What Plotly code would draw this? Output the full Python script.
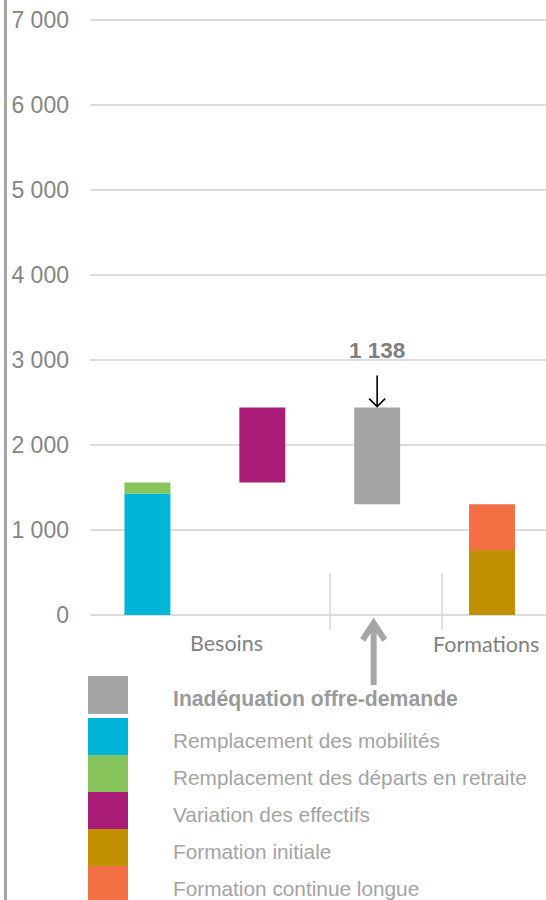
import plotly.graph_objects as go

# ---------------- Data ----------------
series_names = [
    "Inadéquation offre-demande",
    "Remplacement des mobilités",
    "Remplacement des départs en retraite",
    "Variation des effectifs",
    "Formation initiale",
    "Formation continue longue",
]
series_colors = ["#a5a5a5", "#00b5d8", "#88c45c", "#a91d79", "#c08f00", "#f27044"]
group_labels = ["Besoins", "Formations"]

mobilites = 1430
retraite = 130
effectifs = 880
formation_initiale = 765
formation_continue = 537

y_tick_values = [0, 1000, 2000, 3000, 4000, 5000, 6000, 7000]

besoins_total = mobilites + retraite + effectifs
formations_total = formation_initiale + formation_continue
gap = besoins_total - formations_total

# ---------------- Layout geometry ----------------
W_FIG, H_FIG = 546, 900
ML, MR, MT, MB = 90, 0, 19, 285
PW = W_FIG - ML - MR
PH = H_FIG - MT - MB
XR = [-0.5, 3.47]
YR = [0, 7012]


def pxx(p):
    return (p - ML) / PW


def pxy(p):
    return (MT + PH - p) / PH


def data_to_paperx(v):
    return (v - XR[0]) / (XR[1] - XR[0])


BAR_W = 0.4
fig = go.Figure()

bars = [
    (0, mobilites, 0, series_names[1], series_colors[1]),
    (0, retraite, mobilites, series_names[2], series_colors[2]),
    (1, effectifs, mobilites + retraite, series_names[3], series_colors[3]),
    (2, gap, formations_total, series_names[0], series_colors[0]),
    (3, formation_initiale, 0, series_names[4], series_colors[4]),
    (3, formation_continue, formation_initiale, series_names[5], series_colors[5]),
]
for x, h, b, name, col in bars:
    fig.add_trace(go.Bar(x=[x], y=[h], base=[b], name=name, width=BAR_W,
                         marker=dict(color=col, line=dict(width=0)),
                         showlegend=False, hoverinfo="skip"))

shapes = []
annotations = []

# left vertical rule
shapes.append(dict(type="line", xref="paper", yref="paper",
                   x0=pxx(5.5), x1=pxx(5.5), y0=pxy(0), y1=pxy(900),
                   line=dict(color="#a6a6a6", width=3)))

# group separators
for sx in [330, 442]:
    shapes.append(dict(type="line", xref="paper", yref="paper",
                       x0=pxx(sx), x1=pxx(sx), y0=pxy(573), y1=pxy(630),
                       line=dict(color="#d9d9d9", width=1.5)))

# black arrow pointing to top of gap bar
shapes.append(dict(type="path", xref="x", yref="y", xsizemode="pixel", ysizemode="pixel",
                   xanchor=2, yanchor=besoins_total,
                   path="M0,32 L0,1 M-8,9 L0,1 L8,9",
                   line=dict(color="#000000", width=1.6)))

# gray upward arrow under the gap bar
shapes.append(dict(type="path", xref="paper", yref="paper", xsizemode="pixel", ysizemode="pixel",
                   xanchor=data_to_paperx(2), yanchor=0,
                   path="M-3.5,-8 L-3.5,-70 M-14.5,-25 L-3.5,-8 L7.5,-25",
                   line=dict(color="#a6a6a6", width=6)))

# gap label
annotations.append(dict(x=2, y=besoins_total, xref="x", yref="y", yshift=57,
                        text="<b>" + f"{gap:,}".replace(",", " ") + "</b>",
                        showarrow=False, xanchor="center", yanchor="middle",
                        font=dict(family="Liberation Sans, Arial", size=22.5, color="#7f7f7f")))

# group labels
for lab, gx, gy in [(group_labels[0], 226, 643), (group_labels[1], 485.5, 644)]:
    annotations.append(dict(x=pxx(gx), y=pxy(gy), xref="paper", yref="paper",
                            text=lab, showarrow=False, xanchor="center", yanchor="middle",
                            font=dict(family="Lato", size=21.5, color="#7f7f7f")))

# manual legend
for i, (name, col) in enumerate(zip(series_names, series_colors)):
    if i == 0:
        top, h = 676, 38
    else:
        top, h = 718 + (i - 1) * 37, 37
    shapes.append(dict(type="rect", xref="paper", yref="paper",
                       x0=pxx(88), x1=pxx(128), y0=pxy(top), y1=pxy(top + h),
                       fillcolor=col, line=dict(width=0)))
    txt = f"<b>{name}</b>" if i == 0 else name
    annotations.append(dict(x=pxx(171), y=pxy(top + h / 2 + 4), xref="paper", yref="paper",
                            text=txt, showarrow=False, xanchor="left", yanchor="middle",
                            font=dict(family="Liberation Sans, Arial",
                                      size=21.2 if i == 0 else 20.8,
                                      color="#9a9a9a" if i == 0 else "#a3a3a3")))

fig.update_layout(
    width=W_FIG, height=H_FIG,
    margin=dict(l=ML, r=MR, t=MT, b=MB, pad=0),
    paper_bgcolor="white", plot_bgcolor="white",
    barmode="overlay",
    separators=", ",
    showlegend=False,
    shapes=shapes,
    annotations=annotations,
    xaxis=dict(range=XR, showticklabels=False, showgrid=False, zeroline=False,
               showline=False, ticks=""),
    yaxis=dict(range=YR, tickvals=y_tick_values, tickformat=",d",
               showgrid=True, gridcolor="#dcdcdc", gridwidth=1.5,
               zeroline=True, zerolinecolor="#dcdcdc", zerolinewidth=1.5,
               showline=False, ticks="", ticklabelstandoff=20,
               tickfont=dict(family="Liberation Sans, Arial", size=23, color="#858585")),
)

fig.write_html("out.html", config={"displayModeBar": False},
               post_script="document.body.style.margin='0';")
